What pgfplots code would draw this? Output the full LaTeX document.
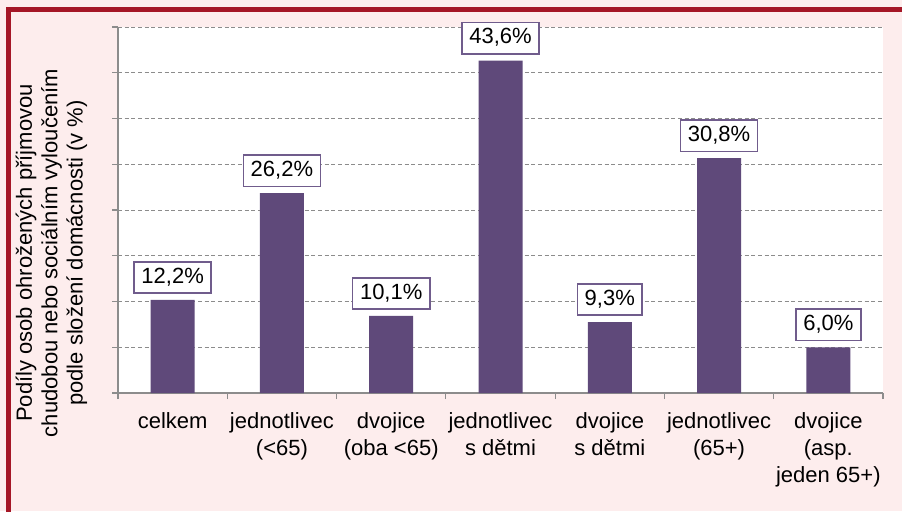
\documentclass[border=0pt]{standalone}
\usepackage{fontspec}
\setmainfont{Liberation Sans}
\usepackage{pgfplots}
\pgfplotsset{compat=1.18}
\definecolor{bg}{RGB}{253,237,237}
\definecolor{framec}{RGB}{165,22,38}
\definecolor{barc}{RGB}{95,73,122}
\definecolor{boxc}{RGB}{112,92,140}
\definecolor{gridc}{RGB}{140,140,140}
\begin{document}
\begin{tikzpicture}
\path[use as bounding box, fill=bg] (0,0) rectangle (676.5pt,383.25pt);
\draw[framec, line width=3.4pt] (6.4pt,-5pt) -- (6.4pt,376.1pt) -- (690pt,376.1pt);
\node[rotate=90, align=center, font=\fontsize{16.5}{19}\selectfont, text=black]
  at (38.6pt,193.5pt) {Podíly osob ohrožených příjmovou\\chudobou nebo sociálním vyloučením\\podle složení domácnosti (v~\%)};
\begin{axis}[
  at={(88.5pt,88.5pt)}, anchor=south west,
  scale only axis, width=573.75pt, height=274.5pt,
  xmin=-0.5, xmax=6.5, ymin=0, ymax=48,
  ytick distance=6, yticklabels={},
  xtick={0,...,6},
  xticklabels={celkem, jednotlivec\\(<65), dvojice\\(oba <65), jednotlivec\\s dětmi, dvojice\\s dětmi, jednotlivec\\(65+), dvojice\\(asp.\\jeden 65+)},
  minor xtick={-0.5,0.5,...,6.5},
  major x tick style={draw=none},
  minor x tick style={gridc, line width=0.8pt},
  y tick style={gridc, line width=0.8pt},
  major tick length=4.5pt, minor tick length=4.5pt,
  tick align=outside,
  axis x line*=bottom, axis y line*=left,
  axis line style={gridc, line width=0.9pt, -},
  ymajorgrids,
  grid style={gridc, dash pattern=on 3pt off 2pt, line width=0.6pt},
  axis background/.style={fill=white},
  xticklabel style={font=\fontsize{16.5}{20}\selectfont, align=center, text=black, yshift=-7pt},
  clip=false,
  ybar, bar width=33pt,
  point meta=explicit symbolic,
  nodes near coords,
  every node near coord/.append style={draw=boxc, line width=1.2pt, fill=white, text=black,
     font=\fontsize{16.5}{19}\selectfont, inner xsep=5.5pt, inner ysep=4pt,
     text height=12pt, text depth=3.5pt, anchor=south, yshift=4.5pt},
]
\addplot[fill=barc, draw=none] coordinates {
  (0,12.2) [12,2\%]
  (1,26.2) [26,2\%]
  (2,10.1) [10,1\%]
  (3,43.6) [43,6\%]
  (4,9.3)  [9,3\%]
  (5,30.8) [30,8\%]
  (6,6.0)  [6,0\%]
};
\end{axis}
\end{tikzpicture}
\end{document}
